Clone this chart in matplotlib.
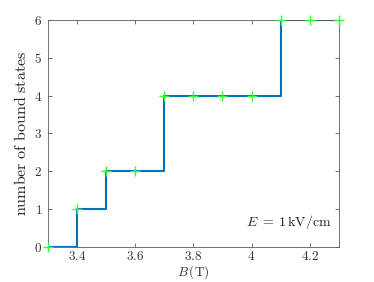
import matplotlib.pyplot as plt

plt.rcParams['mathtext.fontset'] = 'cm'
plt.rcParams['font.family'] = ['DejaVu Serif']

# magnetic field (T) and number of bound states
B_values = [3.3, 3.4, 3.5, 3.6, 3.7, 3.8, 3.9, 4.0, 4.1, 4.2, 4.3]
n_states = [0, 1, 2, 2, 4, 4, 4, 4, 6, 6, 6]

x_ticks = [3.4, 3.6, 3.8, 4.0, 4.2]
x_tick_labels = ['3.4', '3.6', '3.8', '4', '4.2']
y_ticks = [0, 1, 2, 3, 4, 5, 6]

fig = plt.figure(figsize=(3.74, 2.82), dpi=100)
ax = fig.add_axes([0.128, 0.125, 0.778, 0.804])

ax.step(B_values, n_states, where='post', color='#0072BD', linewidth=1.5, zorder=2)
ax.plot(B_values, n_states, linestyle='none', marker='+', markersize=7,
        markeredgewidth=1.0, color='#33ff33', zorder=3, clip_on=False)

ax.set_xlim(3.3, 4.3)
ax.set_ylim(0, 6)
ax.set_xticks(x_ticks)
ax.set_xticklabels([r'$\mathrm{%s}$' % s for s in x_tick_labels])
ax.set_yticks(y_ticks)
ax.set_yticklabels([r'$\mathrm{%d}$' % v for v in y_ticks])

for s in ax.spines.values():
    s.set_color('#5a5a5a')
    s.set_linewidth(0.6)
ax.tick_params(direction='in', top=True, right=True, length=3, width=0.6,
               colors='#5a5a5a', labelsize=9.5, labelcolor='#333333')
ax.tick_params(axis='x', pad=2.5)
ax.tick_params(axis='y', pad=4)

ax.set_xlabel(r'$B\,\mathrm{(T)}$', fontsize=9.5, color='#333333', labelpad=0)
ax.set_ylabel(r'$\mathrm{number\ of\ bound\ states}$', fontsize=11.5, color='#222222', labelpad=3)

ax.text(0.975, 0.07, r'$E\;=\;1\,\mathrm{kV/cm}$', transform=ax.transAxes,
        ha='right', va='bottom', fontsize=10, color='#222222')

plt.savefig('out.png', dpi=100)
